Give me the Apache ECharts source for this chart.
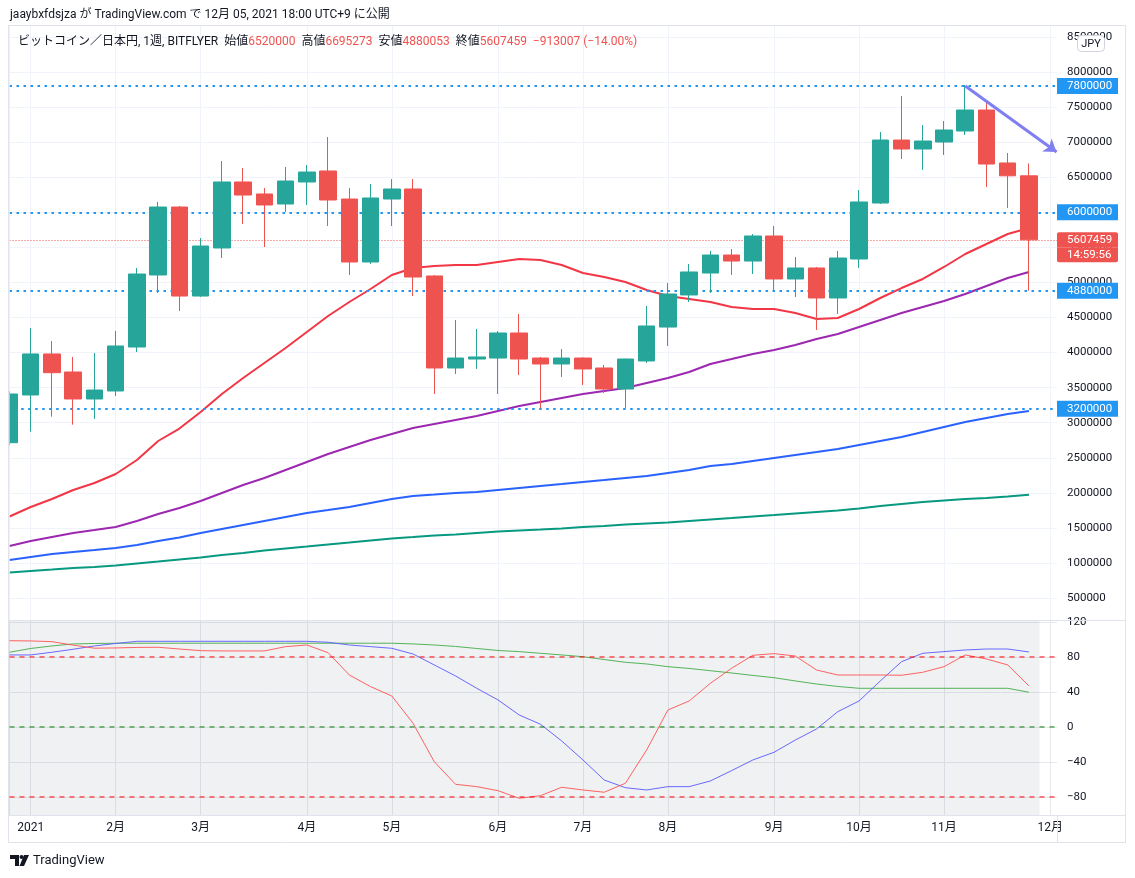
<!DOCTYPE html>
<html><head><meta charset="utf-8">
<script src="https://cdn.jsdelivr.net/npm/echarts@6/dist/echarts.min.js"></script>
<style>html,body{margin:0;padding:0;background:#fff}#c{width:1135px;height:878px}</style>
</head><body><div id="c"></div>
<script>
// ---- data ----
const weeks = ['2020-12-28','2021-01-04','2021-01-11','2021-01-18','2021-01-25','2021-02-01','2021-02-08','2021-02-15','2021-02-22','2021-03-01','2021-03-08','2021-03-15','2021-03-22','2021-03-29','2021-04-05','2021-04-12','2021-04-19','2021-04-26','2021-05-03','2021-05-10','2021-05-17','2021-05-24','2021-05-31','2021-06-07','2021-06-14','2021-06-21','2021-06-28','2021-07-05','2021-07-12','2021-07-19','2021-07-26','2021-08-02','2021-08-09','2021-08-16','2021-08-23','2021-08-30','2021-09-06','2021-09-13','2021-09-20','2021-09-27','2021-10-04','2021-10-11','2021-10-18','2021-10-25','2021-11-01','2021-11-08','2021-11-15','2021-11-22','2021-11-29'];
const openP  = [2715000,3395000,3980000,3723000,3338000,3452000,4079000,5106000,6075000,4806000,5491000,6432000,6261000,6118000,6432000,6589000,6189000,5291000,6189000,6332000,5092000,3780000,3908000,3922000,4279000,3922000,3837000,3922000,3780000,3480000,3880000,4364000,4821000,5134000,5391000,5305000,5662000,5049000,5206000,4778000,5334000,6132000,7030000,6902000,7002000,7159000,7458000,6703000,6520000];
const closeP = [3409000,3980000,3713000,3338000,3466000,4094000,5120000,6075000,4806000,5519000,6432000,6246000,6104000,6446000,6574000,6175000,5291000,6204000,6332000,5077000,3780000,3922000,3937000,4279000,3908000,3837000,3922000,3766000,3480000,3908000,4379000,4835000,5149000,5391000,5305000,5662000,5049000,5206000,4778000,5348000,6147000,7030000,6902000,7016000,7173000,7458000,6688000,6520000,5607459];
const lowP   = [2680000,2872000,3086000,2972000,3053000,3381000,4008000,4849000,4593000,4792000,5348000,5833000,5505000,6004000,6104000,5804000,5106000,5263000,5804000,4806000,3409000,3694000,3766000,3409000,3680000,3205000,3652000,3537000,3424000,3210000,3851000,4094000,4721000,4849000,5106000,5120000,4878000,4792000,4322000,4550000,5206000,6118000,6760000,6603000,6817000,7102000,6360000,6061000,4880053];
const highP  = [3450000,4350000,4165000,3937000,3994000,4308000,5206000,6147000,6090000,5633000,6731000,6631000,6346000,6646000,6674000,7073000,6346000,6403000,6474000,6474000,5106000,4464000,4336000,4307000,4550000,3937000,4051000,3930000,3823000,3915000,4664000,4992000,5263000,5448000,5476000,5690000,5804000,5362000,5220000,5448000,6318000,7145000,7658000,7244000,7301000,7815000,7558000,6845000,6695273];

const maRed    = [1663000,1798000,1912000,2041000,2140000,2269000,2468000,2739000,2917000,3153000,3409000,3637000,3851000,4065000,4293000,4521000,4721000,4906000,5106000,5206000,5234000,5248000,5248000,5291000,5334000,5320000,5248000,5134000,5077000,5006000,4892000,4806000,4764000,4721000,4650000,4621000,4621000,4564000,4479000,4493000,4621000,4778000,4920000,5049000,5220000,5405000,5548000,5690000,5776000];
const maPurple = [1242000,1313000,1370000,1428000,1470000,1513000,1599000,1698000,1784000,1884000,1998000,2112000,2212000,2326000,2440000,2554000,2654000,2753000,2839000,2925000,2982000,3039000,3096000,3167000,3238000,3295000,3352000,3409000,3452000,3495000,3566000,3637000,3723000,3837000,3908000,3980000,4037000,4108000,4193000,4265000,4364000,4464000,4564000,4650000,4735000,4835000,4949000,5063000,5149000];
const maBlue   = [1043000,1085000,1128000,1157000,1185000,1214000,1256000,1313000,1363000,1428000,1485000,1542000,1599000,1656000,1713000,1755000,1798000,1855000,1912000,1955000,1976000,1998000,2012000,2041000,2069000,2098000,2126000,2155000,2183000,2212000,2240000,2283000,2326000,2383000,2411000,2454000,2497000,2540000,2582000,2625000,2682000,2739000,2796000,2867000,2939000,3010000,3067000,3124000,3167000];
const maGreen  = [864000,886000,907000,929000,943000,964000,993000,1021000,1050000,1078000,1114000,1142000,1178000,1207000,1235000,1264000,1292000,1321000,1349000,1370000,1392000,1406000,1428000,1449000,1463000,1477000,1492000,1513000,1527000,1549000,1563000,1577000,1599000,1620000,1641000,1663000,1684000,1706000,1727000,1748000,1777000,1812000,1841000,1869000,1891000,1912000,1927000,1948000,1974000];

const oscRed   = [98.6,98.3,97.5,93.5,90,90.3,90.9,91.1,89.1,87.2,86.9,86.9,86.9,91.8,93.7,84.9,59.4,46.1,35.4,4.2,-39.7,-65.5,-68.2,-72.8,-81.5,-78.5,-68.9,-72,-74.6,-64.3,-26.3,19.4,29.7,49.9,67.1,81.9,83.8,81.1,65.1,59.4,59.4,59.4,59.1,62.5,68.9,82.3,77.7,70.9,46.9];
const oscBlue  = [82.3,82.3,85.4,88.8,92.6,95.4,97.9,97.9,97.9,97.9,97.9,97.9,97.9,97.9,97.9,96.8,93.7,91.8,89.9,83.4,70.9,58.3,44.2,30.9,13.7,3.1,-16,-37.7,-60.6,-69.4,-72,-68.2,-68.2,-61.7,-49.9,-37.7,-28.9,-14.9,-2.3,17.5,29.7,52.6,74.6,84.2,86.1,88,89.1,89.1,85.7];
const oscGreen = [85.4,89.7,92.6,94.9,95.4,95.7,95.7,95.7,95.7,95.7,95.7,95.7,95.7,95.7,95.7,95.7,95.7,95.7,95.7,94.9,93.7,92,89.7,87.4,86.1,84.2,82.3,80.3,77.1,73.9,72,68.9,66.9,64.3,61.7,58.9,56.3,52.6,49.1,46.3,44.2,44.2,44.2,44.2,44.2,44.2,44.2,44.2,39.7];

const monthTickIdx = [1,5,9,14,18,23,27,31,36,40,44,49];
const monthLabels  = ['2021','2月','3月','4月','5月','6月','7月','8月','9月','10月','11月','12月'];
const priceTicks = [500000,1000000,1500000,2000000,2500000,3000000,3500000,4000000,4500000,5000000,5500000,6000000,6500000,7000000,7500000,8000000,8500000];
const levelLines = [7800000,6000000,4880000,3200000];
const lastPrice = 5607459;
const countdown = '14:59:56';
const oscTicks = [-80,-40,0,40,80,120];
const oscLevels = [80,0,-80];
const oscLevelColors = ['#ff0000','#008000','#ff0000'];
const arrowFrom = [45,7800000];
const arrowTo = [49.3,6860000];

// ---- chart ----
const FONT = 'Roboto, "Noto Sans CJK JP", sans-serif';
const X_MAX = 49.32;
const GRID_LEFT = 9.5, GRID_RIGHT = 78;
const chart = echarts.init(document.getElementById('c'), null, {renderer:'canvas'});

const idx = weeks.map((w,i)=>i);
const candleData = idx.map(i=>[i, openP[i], closeP[i], lowP[i], highP[i]]);
const pair = arr => arr.map((v,i)=>[i,v]);

function lvlLabel(v){
  if (Math.abs(v-lastPrice) < 1) return '{e| }\n{r1|'+lastPrice+'}\n{r2|'+countdown+'}';
  return '{b|'+v+'}';
}
const blueDot = {color:'#2196f3', width:2, type:[2.5,4.5]};

const levelSeries = oscLevels.map((v,k)=>({
  type:'line', xAxisIndex:1, yAxisIndex:2, silent:true, showSymbol:false, symbol:'none', z:4,
  data:[[0,v],[X_MAX,v]],
  lineStyle:{color:oscLevelColors[k], width:1, type:[5,5]}
}));

const option = {
  animation:false,
  backgroundColor:'#ffffff',
  textStyle:{fontFamily:FONT},
  grid:[
    {left:GRID_LEFT, right:GRID_RIGHT, top:26, height:594, outerBoundsMode:'none', containLabel:false},
    {left:GRID_LEFT, right:GRID_RIGHT, top:621, height:194, outerBoundsMode:'none', containLabel:false}
  ],
  xAxis:[
    {type:'value', gridIndex:0, min:0, max:X_MAX,
     axisLine:{show:false}, axisLabel:{show:false},
     axisTick:{show:false, customValues:monthTickIdx},
     splitLine:{show:true, lineStyle:{color:'#f0f3fa', width:1}}},
    {type:'value', gridIndex:1, min:0, max:X_MAX,
     axisLine:{show:false},
     axisTick:{show:false, customValues:monthTickIdx},
     axisLabel:{show:true, customValues:monthTickIdx, margin:7, color:'#131722', fontSize:12, fontFamily:FONT,
       formatter:v=>{const k=monthTickIdx.indexOf(Math.round(v)); return k>=0?monthLabels[k]:'';}},
     splitLine:{show:true, lineStyle:{color:'#e6e8ee', width:1}}}
  ],
  yAxis:[
    {type:'value', gridIndex:0, position:'right', min:187000, max:8656000,
     axisLine:{show:true, lineStyle:{color:'#e0e3eb'}},
     axisTick:{show:false, customValues:priceTicks},
     axisLabel:{customValues:priceTicks, margin:10, color:'#131722', fontSize:11.5, fontFamily:FONT, formatter:v=>String(v)},
     splitLine:{show:true, lineStyle:{color:'#f0f3fa', width:1}}},
    {type:'value', gridIndex:0, position:'right', min:187000, max:8656000,
     axisLine:{show:false}, splitLine:{show:false},
     axisTick:{show:false, customValues:[7800000,6000000,lastPrice,4880000,3200000]},
     axisLabel:{customValues:[7800000,6000000,lastPrice,4880000,3200000], margin:0, formatter:lvlLabel,
       rich:{
         b:{backgroundColor:'#2196f3', color:'#ffffff', width:51, height:16, lineHeight:16, padding:[0,0,0,10], fontSize:11.5, fontFamily:FONT},
         e:{width:61, height:15, lineHeight:15, fontSize:1},
         r1:{backgroundColor:'#ef5350', color:'#ffffff', width:51, height:15, lineHeight:15, padding:[0,0,0,10], fontSize:11.5, fontFamily:FONT, borderRadius:[2,2,0,0]},
         r2:{backgroundColor:'#ef5350', color:'#ffffff', width:51, height:15, lineHeight:15, padding:[0,0,0,10], fontSize:11.5, fontFamily:FONT, borderRadius:[0,0,2,2]}
       }}},
    {type:'value', gridIndex:1, position:'right', min:-100.6, max:121.1,
     axisLine:{show:true, lineStyle:{color:'#e0e3eb'}},
     axisTick:{show:false, customValues:oscTicks},
     axisLabel:{customValues:oscTicks, margin:10, color:'#131722', fontSize:11.5, fontFamily:FONT,
       formatter:v=>String(v).replace('-','\u2212')},
     splitLine:{show:true, lineStyle:{color:'#e6e8ee', width:1}}}
  ],
  series:[
    {type:'line', xAxisIndex:0, yAxisIndex:0, data:pair(maGreen), showSymbol:false, z:2,
     lineStyle:{color:'#089981', width:2}},
    {type:'line', xAxisIndex:0, yAxisIndex:0, data:pair(maBlue), showSymbol:false, z:2,
     lineStyle:{color:'#2962ff', width:2}},
    {type:'line', xAxisIndex:0, yAxisIndex:0, data:pair(maPurple), showSymbol:false, z:2,
     lineStyle:{color:'#9c27b0', width:2}},
    {type:'line', xAxisIndex:0, yAxisIndex:0, data:pair(maRed), showSymbol:false, z:2,
     lineStyle:{color:'#f23645', width:2},
     markLine:{silent:true, symbol:['none','none'], label:{show:false}, z:3,
       data:[
         {yAxis:levelLines[0], lineStyle:blueDot},
         {yAxis:levelLines[1], lineStyle:blueDot},
         {yAxis:levelLines[2], lineStyle:blueDot},
         [{coord:[0.55,levelLines[3]], lineStyle:blueDot},{coord:[X_MAX,levelLines[3]]}],
         {yAxis:lastPrice, lineStyle:{color:'#ef5350', width:1, type:[1,2]}}
       ]}},
    {type:'candlestick', xAxisIndex:0, yAxisIndex:0, data:candleData, barWidth:17, z:4, clip:true,
     itemStyle:{color:'#26a69a', color0:'#ef5350', borderColor:'#26a69a', borderColor0:'#ef5350', borderWidth:1},
     markLine:{silent:true, symbol:['none','arrow'], symbolSize:[12,12], label:{show:false}, z:6,
       lineStyle:{color:'#7f7ff2', width:3, type:'solid'},
       data:[[{coord:arrowFrom},{coord:arrowTo}]]}},
    {type:'line', xAxisIndex:1, yAxisIndex:2, data:pair(oscGreen), showSymbol:false, z:3,
     lineStyle:{color:'rgba(76,175,80,0.95)', width:1},
     markArea:{silent:true, itemStyle:{color:'rgba(120,123,140,0.11)'}, data:[[{xAxis:0},{xAxis:48.5}]]}},
    {type:'line', xAxisIndex:1, yAxisIndex:2, data:pair(oscBlue), showSymbol:false, z:3,
     lineStyle:{color:'rgba(90,90,255,0.9)', width:1}},
    {type:'line', xAxisIndex:1, yAxisIndex:2, data:pair(oscRed), showSymbol:false, z:3,
     lineStyle:{color:'rgba(255,82,82,0.9)', width:1}}
  ].concat(levelSeries),
  graphic:[
    {type:'rect', z:50, shape:{x:0,y:26,width:9.5,height:594}, style:{fill:'#ffffff'}},
    {type:'line', z:60, shape:{x1:8,y1:25.5,x2:1126,y2:25.5}, style:{stroke:'#e0e3eb', lineWidth:1}},
    {type:'line', z:60, shape:{x1:8.5,y1:25,x2:8.5,y2:843}, style:{stroke:'#e0e3eb', lineWidth:1}},
    {type:'line', z:60, shape:{x1:1125.5,y1:25,x2:1125.5,y2:843}, style:{stroke:'#e0e3eb', lineWidth:1}},
    {type:'line', z:60, shape:{x1:8,y1:842.5,x2:1126,y2:842.5}, style:{stroke:'#e0e3eb', lineWidth:1}},
    {type:'line', z:60, shape:{x1:8,y1:620.5,x2:1126,y2:620.5}, style:{stroke:'#e0e3eb', lineWidth:1}},
    {type:'line', z:60, shape:{x1:8,y1:815.5,x2:1126,y2:815.5}, style:{stroke:'#e0e3eb', lineWidth:1}},
    {type:'line', z:60, shape:{x1:1057.5,y1:815,x2:1057.5,y2:843}, style:{stroke:'#e0e3eb', lineWidth:1}},
    {type:'text', z:70, x:10, y:15, style:{text:'jaaybxfdsjza が TradingView.com で 12月 05, 2021 18:00 UTC+9 に公開', fill:'#131722', font:'12px '+FONT, verticalAlign:'middle'}},
    {type:'text', z:70, x:18, y:42, style:{
      text:'{k|ビットコイン／日本円, 1週, BITFLYER  始値}{v|6520000}{k|  高値}{v|6695273}{k|  安値}{v|4880053}{k|  終値}{v|5607459}{v|  \u2212913007 (\u221214.00%)}',
      verticalAlign:'middle',
      rich:{k:{fill:'#131722', fontSize:12, fontFamily:FONT}, v:{fill:'#ef5350', fontSize:12, fontFamily:FONT}}}},
    {type:'rect', z:70, shape:{x:1077.5,y:35.5,width:27,height:16,r:4}, style:{fill:'#ffffff', stroke:'#d1d4dc', lineWidth:1}},
    {type:'text', z:71, x:1091, y:44, style:{text:'JPY', fill:'#131722', font:'11px '+FONT, align:'center', verticalAlign:'middle'}},
    {type:'polygon', z:70, shape:{points:[[10,855],[19,855],[19,866],[15,866],[15,859],[10,859]]}, style:{fill:'#131722'}},
    {type:'circle', z:70, shape:{cx:21.5,cy:857,r:2}, style:{fill:'#131722'}},
    {type:'polygon', z:70, shape:{points:[[24,855],[29,855],[24,866],[19.5,866]]}, style:{fill:'#131722'}},
    {type:'text', z:70, x:33, y:861, style:{text:'TradingView', fill:'#131722', font:'13px '+FONT, verticalAlign:'middle'}}
  ]
};
chart.setOption(option);
</script>
</body></html>
